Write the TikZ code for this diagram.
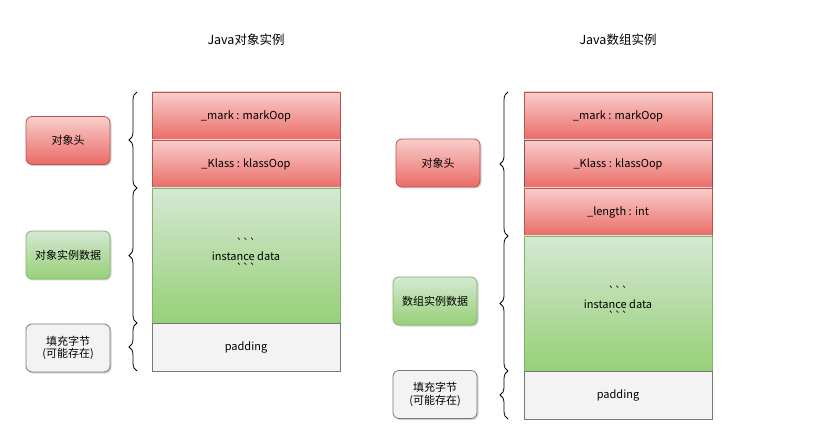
\documentclass[tikz,border=0pt]{standalone}
\usepackage{fontspec}
\setmainfont{Noto Sans CJK SC}
\usepackage{tikz}
\usetikzlibrary{positioning,decorations.pathreplacing,shadows}

\definecolor{redtop}{HTML}{F8CECC}
\definecolor{redbot}{HTML}{EA6B66}
\definecolor{redline}{HTML}{B85450}
\definecolor{darkline}{HTML}{7A5656}
\definecolor{greentop}{HTML}{D5E8D4}
\definecolor{greenbot}{HTML}{97D077}
\definecolor{greenline}{HTML}{82B366}
\definecolor{grayfill}{HTML}{F3F3F3}
\definecolor{grayline}{HTML}{777777}

\begin{document}
\begin{tikzpicture}[x=1pt,y=-1pt,node distance=0pt,
  font=\fontsize{11}{12.5}\selectfont,
  row node/.style={rectangle,draw,line width=0.8pt,minimum width=188pt,inner sep=0pt,outer sep=0pt},
  head node/.style={row node,draw=redline,top color=redtop,bottom color=redbot,minimum height=48pt},
  data node/.style={row node,draw=greenline,top color=greentop,bottom color=greenbot,align=center},
  pad node/.style={row node,draw=grayline,fill=grayfill,minimum height=48pt},
  label node/.style={rectangle,rounded corners=6pt,draw,line width=0.8pt,minimum width=84pt,
    minimum height=48pt,align=center,
    drop shadow={shadow xshift=1.5pt,shadow yshift=-1.5pt,opacity=0.35}},
  red label/.style={label node,draw=redline,top color=redtop,bottom color=redbot},
  green label/.style={label node,draw=greenline,top color=greentop,bottom color=greenbot},
  gray label/.style={label node,draw=grayline,fill=grayfill},
  brace/.style={decorate,decoration={brace,amplitude=8pt},line width=0.8pt}]
  \useasboundingbox (0,0) rectangle (819,446);

  % titles
  \node (otitle) at (246,40) {\fontsize{12.5}{14}\selectfont Java对象实例};
  \node (atitle) at (618,40) {\fontsize{12.5}{14}\selectfont Java数组实例};

  % object instance
  \node[head node] (omark) at (246,116) {\_mark : markOop};
  \node[head node] (oklass) [below=of omark] {\_Klass : klassOop};
  \node[data node,minimum height=135pt] (odata) [below=of oklass]
    {\textasciigrave\textasciigrave\textasciigrave\\instance data\\\textasciigrave\textasciigrave\textasciigrave};
  \node[pad node] (opad) [below=of odata] {padding};

  \node[red label] (ohead) at (68,140.5) {对象头};
  \node[green label] (obody) at (68,255) {对象实例数据};
  \node[gray label] (ofill) at (68,348) {填充字节\\(可能存在)};

  \draw[brace] ([xshift=-15pt]oklass.south west) -- ([xshift=-15pt]omark.north west);
  \draw[brace] ([xshift=-15pt]odata.south west) -- ([xshift=-15pt]odata.north west);
  \draw[brace] ([xshift=-15pt]opad.south west) -- ([xshift=-15pt]opad.north west);

  % array instance
  \node[head node] (amark) at (618,116) {\_mark : markOop};
  \node[head node,draw=darkline] (aklass) [below=of amark] {\_Klass : klassOop};
  \node[head node] (alength) [below=of aklass] {\_length : int};
  \node[data node,minimum height=135pt] (adata) [below=of alength]
    {\textasciigrave\textasciigrave\textasciigrave\\instance data\\\textasciigrave\textasciigrave\textasciigrave};
  \node[pad node] (apad) [below=of adata] {padding};

  \node[red label] (ahead) at (438,163) {对象头};
  \node[green label] (abody) at (435,301) {数组实例数据};
  \node[gray label] (afill) at (435,394.5) {填充字节\\(可能存在)};

  \draw[brace] ([xshift=-16pt]alength.south west) -- ([xshift=-16pt]amark.north west);
  \draw[brace] ([xshift=-16pt]adata.south west) -- ([xshift=-16pt]adata.north west);
  \draw[brace] ([xshift=-16pt]apad.south west) -- ([xshift=-16pt]apad.north west);
\end{tikzpicture}
\end{document}
